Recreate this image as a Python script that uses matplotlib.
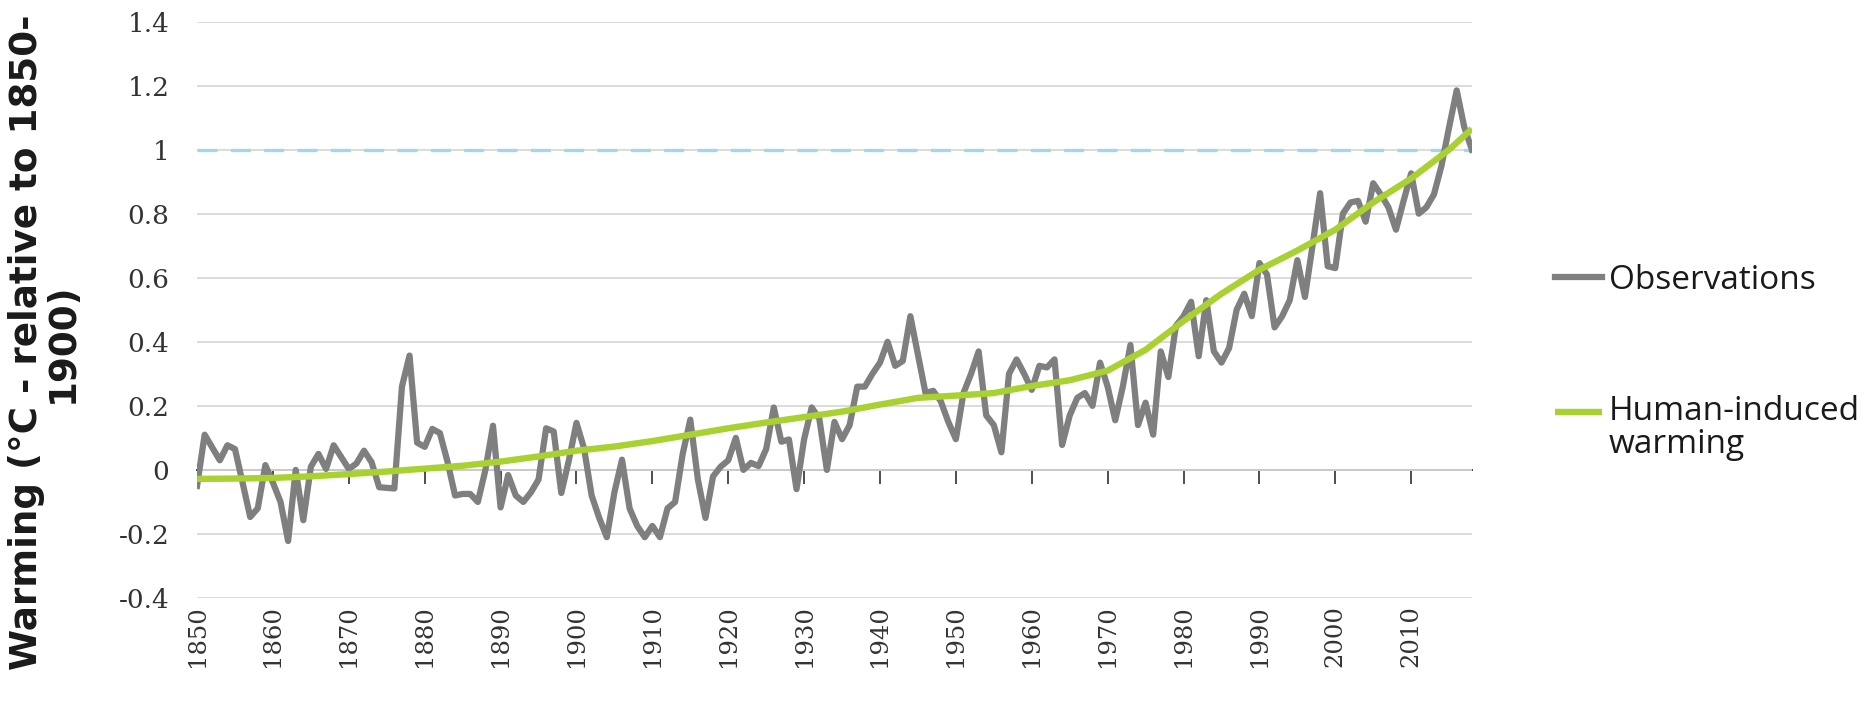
import numpy as np
import matplotlib
matplotlib.use("Agg")
import matplotlib.pyplot as plt
from matplotlib.legend_handler import HandlerLine2D

# ==========================================================
# DATA
# ==========================================================
years = list(range(1850, 2019))

observations = [
    -0.05, 0.11, 0.07, 0.03, 0.077, 0.065, -0.04, -0.147, -0.12, 0.015,      # 1850s
    -0.04, -0.10, -0.222, 0.0, -0.157, 0.01, 0.05, 0.003, 0.077, 0.04,        # 1860s
    0.003, 0.02, 0.06, 0.024, -0.054, -0.056, -0.058, 0.26, 0.357, 0.085,     # 1870s
    0.072, 0.128, 0.115, 0.026, -0.08, -0.075, -0.075, -0.10, 0.0, 0.138,     # 1880s
    -0.117, -0.016, -0.08, -0.10, -0.07, -0.03, 0.13, 0.12, -0.072, 0.03,     # 1890s
    0.147, 0.067, -0.08, -0.15, -0.21, -0.07, 0.032, -0.12, -0.175, -0.21,    # 1900s
    -0.175, -0.21, -0.12, -0.10, 0.05, 0.157, -0.03, -0.15, -0.02, 0.01,      # 1910s
    0.03, 0.10, 0.0, 0.022, 0.012, 0.065, 0.195, 0.088, 0.095, -0.06,         # 1920s
    0.096, 0.195, 0.16, 0.0, 0.15, 0.096, 0.14, 0.26, 0.26, 0.30,             # 1930s
    0.335, 0.40, 0.325, 0.34, 0.48, 0.36, 0.24, 0.247, 0.215, 0.15,           # 1940s
    0.096, 0.24, 0.30, 0.37, 0.17, 0.14, 0.055, 0.30, 0.345, 0.30,            # 1950s
    0.25, 0.325, 0.32, 0.345, 0.078, 0.17, 0.225, 0.24, 0.20, 0.335,          # 1960s
    0.26, 0.155, 0.26, 0.39, 0.14, 0.21, 0.11, 0.37, 0.29, 0.45,              # 1970s
    0.48, 0.525, 0.355, 0.53, 0.37, 0.335, 0.38, 0.50, 0.55, 0.48,            # 1980s
    0.646, 0.61, 0.445, 0.48, 0.53, 0.655, 0.54, 0.70, 0.864, 0.636,          # 1990s
    0.63, 0.80, 0.835, 0.84, 0.775, 0.895, 0.86, 0.82, 0.75, 0.84,            # 2000s
    0.926, 0.80, 0.82, 0.86, 0.95, 1.07, 1.185, 1.07, 1.0,                    # 2010s
]

human_years = [1850, 1855, 1860, 1865, 1870, 1875, 1880, 1885, 1890, 1895,
               1900, 1905, 1910, 1915, 1920, 1925, 1930, 1935, 1940, 1945,
               1950, 1955, 1960, 1965, 1970, 1975, 1980, 1985, 1990, 1995,
               2000, 2005, 2010, 2015, 2018]
human_induced = [-0.028, -0.027, -0.025, -0.02, -0.013, -0.005, 0.004, 0.013, 0.026, 0.042,
                 0.06, 0.073, 0.09, 0.11, 0.13, 0.148, 0.165, 0.182, 0.204, 0.225,
                 0.232, 0.24, 0.262, 0.28, 0.31, 0.375, 0.465, 0.55, 0.625, 0.685,
                 0.75, 0.835, 0.91, 1.0, 1.065]

threshold = 1.0

xtick_years = [1850, 1860, 1870, 1880, 1890, 1900, 1910, 1920, 1930,
               1940, 1950, 1960, 1970, 1980, 1990, 2000, 2010]
axis_tick_years = xtick_years[1:]
ytick_values = [-0.4, -0.2, 0, 0.2, 0.4, 0.6, 0.8, 1.0, 1.2, 1.4]
ytick_labels = ["-0.4", "-0.2", "0", "0.2", "0.4", "0.6", "0.8", "1", "1.2", "1.4"]

ylabel_text = "Warming (°C - relative to 1850-\n1900)"
legend_labels = ["Observations", "Human-induced\nwarming"]

# ==========================================================
# STYLE
# ==========================================================
obs_color = "#7f7f7f"
human_color = "#a9d131"
dash_color = "#a3d6e8"
grid_color = "#d9d9d9"
axis_color = "#404040"
tick_font = "DejaVu Serif"
leg_fs = 24


class FirstLineHandler(HandlerLine2D):
    """Legend line aligned with the first line of a two-line label."""

    def __init__(self, shift=0.0, **kw):
        super().__init__(**kw)
        self.shift = shift

    def create_artists(self, legend, orig_handle, xdescent, ydescent,
                       width, height, fontsize, trans):
        arts = super().create_artists(legend, orig_handle, xdescent, ydescent,
                                      width, height, fontsize, trans)
        for a in arts:
            a.set_ydata(np.asarray(a.get_ydata(), dtype=float) + self.shift)
        return arts


fig = plt.figure(figsize=(18.75, 7.10), dpi=100)
ax = fig.add_axes([0.1051, 0.1577, 0.6799, 0.8120])

ax.axhline(threshold, color=dash_color, lw=2.4, ls=(0, (6, 4)), zorder=1.5)
obs_line, = ax.plot(years, observations, color=obs_color, lw=4.5,
                    solid_joinstyle="round", zorder=3)
hum_line, = ax.plot(human_years, human_induced, color=human_color, lw=4.6,
                    solid_capstyle="butt", zorder=4)

ax.set_xlim(1850, 2018)
ax.set_ylim(-0.4, 1.4)

for s in ax.spines.values():
    s.set_visible(False)

ax.set_yticks(ytick_values, labels=ytick_labels)
ax.set_xticks(xtick_years, labels=[str(y) for y in xtick_years])
ax.tick_params(axis="y", length=0, pad=20, labelsize=19, labelcolor="#333333")
ax.tick_params(axis="x", length=0, pad=5, labelsize=17.5, labelcolor="#333333",
               labelrotation=90)
for lab in ax.get_xticklabels() + ax.get_yticklabels():
    lab.set_fontfamily(tick_font)

ax.yaxis.grid(True, color=grid_color, lw=1.3)
ax.xaxis.grid(False)
ax.set_axisbelow(True)

# zero line with tick marks (category axis crosses at 0)
secax = ax.secondary_xaxis(0.4 / 1.8)
secax.set_xticks(axis_tick_years)
secax.tick_params(axis="x", direction="out", length=10, width=1.3,
                  color=axis_color, labelbottom=False, labeltop=False)
secax.spines["bottom"].set_color(axis_color)
secax.spines["bottom"].set_linewidth(1.4)
secax.spines["top"].set_visible(False)

fig.text(0.0235, 0.518, ylabel_text, rotation=90, ha="center", va="center",
         multialignment="center", fontsize=26.8, fontweight="bold",
         family="DejaVu Sans", color="#1a1a1a", linespacing=0.95)

leg = ax.legend([obs_line, hum_line], legend_labels,
                loc="upper left", bbox_to_anchor=(0.8295, 0.628),
                bbox_transform=fig.transFigure, frameon=False,
                prop={"family": "Open Sans", "size": leg_fs},
                handlelength=1.4, handletextpad=0.2, labelspacing=2.95,
                borderpad=0, borderaxespad=0,
                handler_map={hum_line: FirstLineHandler(shift=0.52 * leg_fs)})
for t in leg.get_texts():
    t.set_color("#1a1a1a")
    t.set_linespacing(1.0)

fig.savefig("out.png", dpi=100)
